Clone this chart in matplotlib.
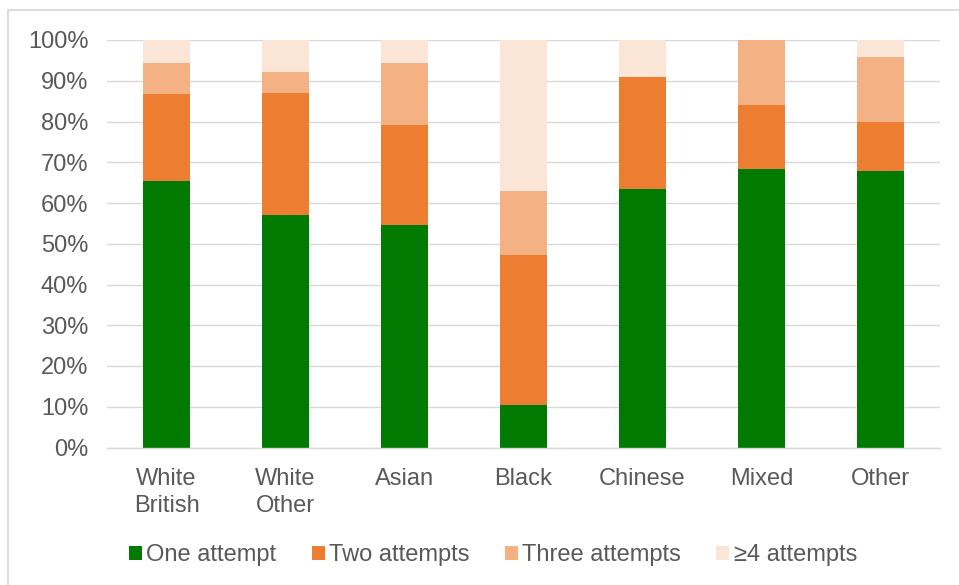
import matplotlib
matplotlib.use("Agg")
import matplotlib.pyplot as plt
from matplotlib.patches import Rectangle
from matplotlib.ticker import FuncFormatter, MultipleLocator
import numpy as np

plt.rcParams["font.family"] = ["Liberation Sans", "DejaVu Sans"]

GROUPS = ["White\nBritish", "White\nOther", "Asian", "Black", "Chinese", "Mixed", "Other"]
ONE = [65.4, 57.1, 54.7, 10.4, 63.5, 68.3, 67.9]
TWO = [21.4, 30.0, 24.5, 36.8, 27.4, 15.7, 12.0]
THREE = [7.6, 5.1, 15.1, 15.8, 0.0, 16.0, 16.0]
FOUR = [5.6, 7.8, 5.7, 37.0, 9.1, 0.0, 4.1]
SERIES = ["One attempt", "Two attempts", "Three attempts", "\u22654 attempts"]
COLORS = ["#007A00", "#ED7D31", "#F4B183", "#FBE5D6"]

TXT = "#595959"
GRID = "#D9D9D9"
FS = 17

fig = plt.figure(figsize=(9.59, 5.85), dpi=100)
ax = fig.add_axes([107 / 959, 1 - 447.5 / 585, 833 / 959, 407.5 / 585])

x = np.arange(len(GROUPS))
bottom = np.zeros(len(GROUPS))
for name, vals, col in zip(SERIES, [ONE, TWO, THREE, FOUR], COLORS):
    ax.bar(x, vals, width=0.395, bottom=bottom, color=col, label=name, zorder=2)
    bottom += np.array(vals)

ax.set_xlim(-0.5, len(GROUPS) - 0.5)
ax.set_ylim(0, 100)
ax.yaxis.set_major_locator(MultipleLocator(10))
ax.yaxis.set_major_formatter(FuncFormatter(lambda v, _: f"{v:.0f}%"))
ax.grid(axis="y", color=GRID, linewidth=1.0, zorder=0)
ax.set_axisbelow(True)
for side in ("top", "right", "left"):
    ax.spines[side].set_visible(False)
ax.spines["bottom"].set_color(GRID)
ax.spines["bottom"].set_linewidth(1.0)

ax.set_xticks(x)
ax.set_xticklabels(GROUPS, linespacing=1.3)
ax.tick_params(axis="x", length=0, pad=14.5, labelsize=FS, labelcolor=TXT)
ax.tick_params(axis="y", length=0, pad=13.5, labelsize=FS, labelcolor=TXT)

leg = fig.legend(loc="center", bbox_to_anchor=(493 / 959, 1 - 555 / 585), ncol=4,
                 frameon=False, fontsize=FS, handlelength=0.55, handleheight=0.55,
                 handletextpad=0.18, columnspacing=1.5, borderaxespad=0)
for t in leg.get_texts():
    t.set_color(TXT)

# chart frame
fig.patches.append(Rectangle((8 / 959, -0.1), 1.2, 1.1 - 10 / 585, transform=fig.transFigure,
                             fill=False, edgecolor=GRID, linewidth=1.3))

fig.savefig("out.png", dpi=100)
